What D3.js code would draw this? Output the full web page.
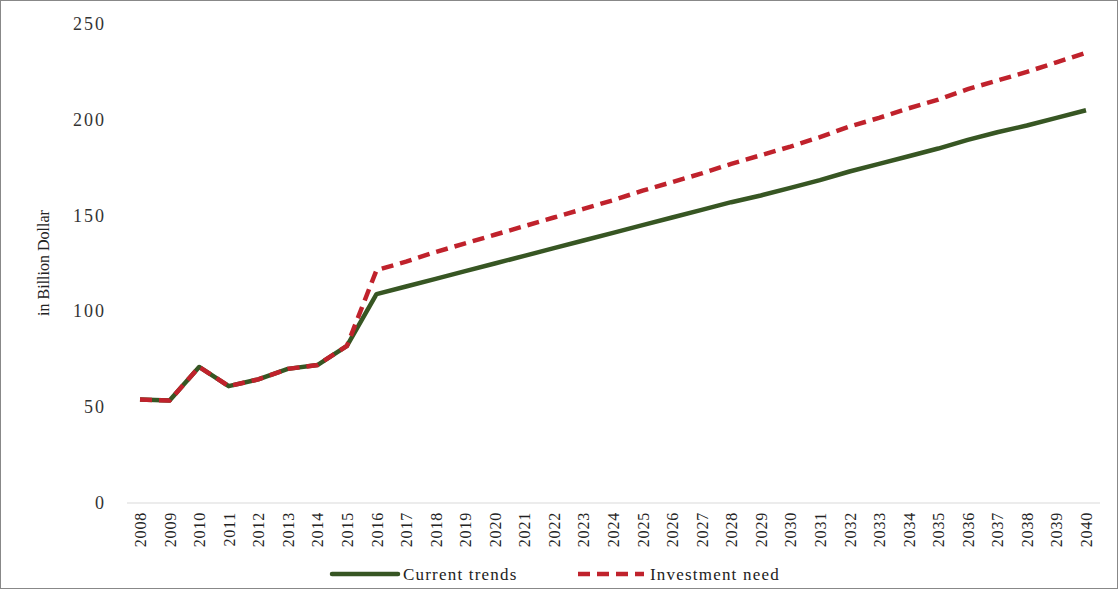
<!DOCTYPE html>
<html><head><meta charset="utf-8">
<script src="https://cdn.jsdelivr.net/npm/d3@7"></script>
<style>body{margin:0;background:#fff}text{font-family:"Liberation Serif","DejaVu Serif",serif}</style>
</head><body><div id="chart"></div>
<script>
var WIDTH = 1119, HEIGHT = 591;
var years = d3.range(2008, 2041);
var currentTrends = [54, 53.5, 71, 61, 64.5, 70, 72, 82, 109, 113, 117, 121, 125, 129, 133, 137, 141, 145, 149, 153, 157, 160.5, 164.5, 168.5, 173, 177, 181, 185, 189.5, 193.5, 197, 201, 205];
var investmentNeed = [54, 53.5, 71, 61, 64.5, 70, 72, 82, 121.5, 126, 131, 135.5, 140, 144.5, 149, 153.5, 158, 163, 167.5, 172, 177, 181.5, 186, 191, 196.5, 201, 206, 210.5, 216, 220.5, 225, 230, 235];
var yTicks = [0, 50, 100, 150, 200, 250];

var svg = d3.select("#chart").append("svg").attr("width", WIDTH).attr("height", HEIGHT);
svg.append("rect").attr("x", 0.5).attr("y", 0.5).attr("width", WIDTH - 2).attr("height", HEIGHT - 3)
  .attr("fill", "none").attr("stroke", "#888");

var x = d3.scalePoint().domain(years).range([140, 1086]);
var y = d3.scaleLinear().domain([0, 250]).range([503, 24]);

svg.append("line").attr("x1", 127).attr("x2", 1100).attr("y1", y(0)).attr("y2", y(0))
  .attr("stroke", "#d9d9d9");

svg.selectAll(".yt").data(yTicks).enter().append("text")
  .attr("x", 106).attr("y", d => y(d) + 6).attr("text-anchor", "end")
  .attr("font-size", 18).attr("letter-spacing", 2).attr("fill", "#333").text(d => d);

svg.selectAll(".xt").data(years).enter().append("text")
  .attr("transform", d => "translate(" + (x(d) + 6) + "," + 512 + ") rotate(-90)")
  .attr("text-anchor", "end").attr("font-size", 16).attr("letter-spacing", 0.8).attr("fill", "#222").text(d => d);

svg.append("text").attr("transform", "translate(49,263) rotate(-90)")
  .attr("text-anchor", "middle").attr("font-size", 16).attr("fill", "#222").text("in Billion Dollar");

var line = d3.line().x((d, i) => x(years[i])).y(d => y(d));
svg.append("path").datum(currentTrends).attr("d", line).attr("fill", "none")
  .attr("stroke", "#375623").attr("stroke-width", 4.5).attr("stroke-linejoin", "round");
svg.append("path").datum(investmentNeed).attr("d", line).attr("fill", "none")
  .attr("stroke", "#c0222c").attr("stroke-width", 4.5).attr("stroke-dasharray", "12,7");

var lg = svg.append("g");
lg.append("line").attr("x1", 332).attr("x2", 398).attr("y1", 574).attr("y2", 574)
  .attr("stroke", "#375623").attr("stroke-width", 4.5).attr("stroke-linecap", "round");
lg.append("text").attr("x", 403).attr("y", 580).attr("font-size", 17).attr("letter-spacing", 1.2).attr("fill", "#222").text("Current trends");
lg.append("line").attr("x1", 578).attr("x2", 644).attr("y1", 574).attr("y2", 574)
  .attr("stroke", "#c0222c").attr("stroke-width", 4.5).attr("stroke-dasharray", "12,7");
lg.append("text").attr("x", 650).attr("y", 580).attr("font-size", 17).attr("letter-spacing", 1.2).attr("fill", "#222").text("Investment need");
</script></body></html>
